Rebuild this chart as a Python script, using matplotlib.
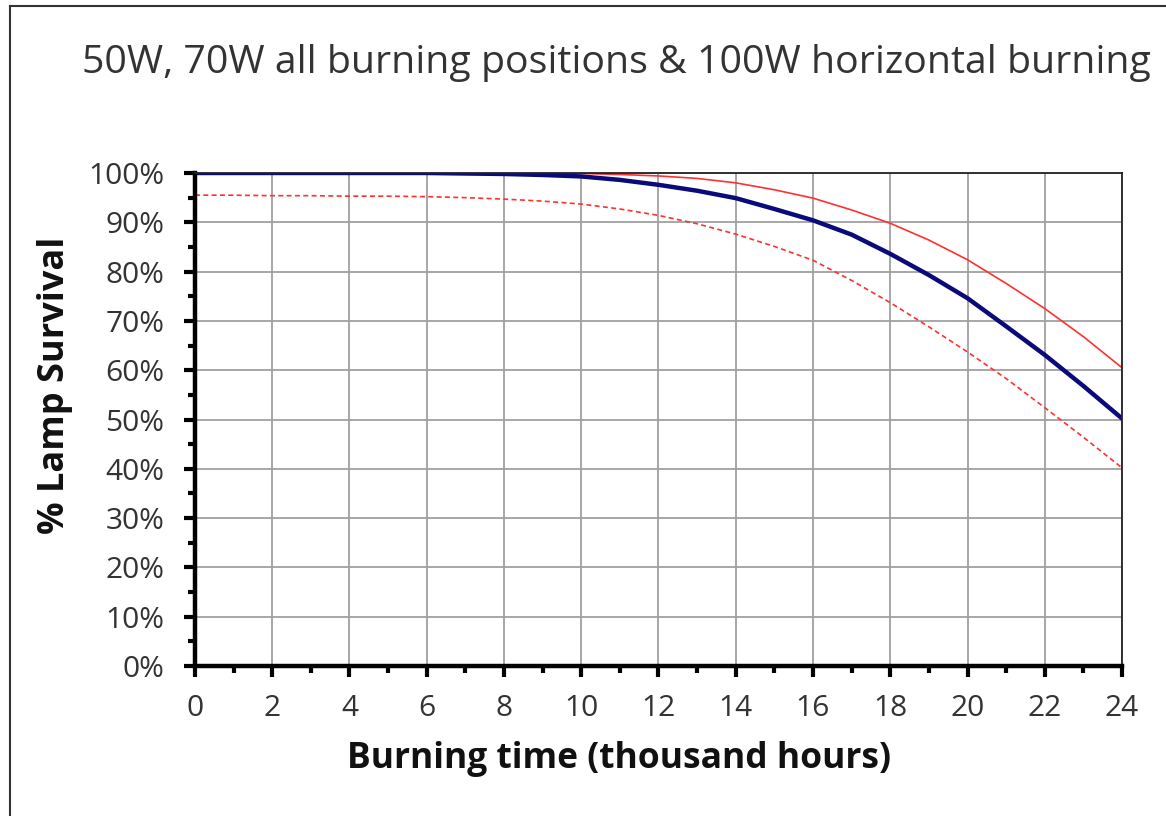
import numpy as np
import matplotlib
matplotlib.use('Agg')
import matplotlib.pyplot as plt
from matplotlib.lines import Line2D
from matplotlib.ticker import MultipleLocator, FuncFormatter

plt.rcParams['font.family'] = ['Open Sans', 'DejaVu Sans']

# burning time (thousand hours)
hours = list(range(0, 25))
# survival (%) - mean curve and upper/lower bands
survival_mean = [100, 100, 100, 100, 100, 100, 100, 99.9, 99.8, 99.6, 99.3, 98.6, 97.6,
                 96.4, 94.9, 92.7, 90.4, 87.5, 83.6, 79.3, 74.6, 68.9, 63.1, 56.8, 50.2]
survival_upper = [100, 100, 100, 100, 100, 100, 100, 100, 100, 100, 99.9, 99.7, 99.4,
                  98.9, 98.0, 96.6, 94.9, 92.5, 89.8, 86.4, 82.4, 77.6, 72.5, 66.8, 60.5]
survival_lower = [95.5, 95.5, 95.4, 95.4, 95.3, 95.3, 95.2, 95.0, 94.7, 94.3, 93.7, 92.7, 91.4,
                  89.7, 87.6, 85.1, 82.3, 78.2, 73.7, 68.8, 63.7, 58.3, 52.4, 46.4, 40.2]

title = "50W, 70W all burning positions & 100W horizontal burning"

fig = plt.figure(figsize=(11.66, 8.16), dpi=100)
ax = fig.add_axes([0.1672, 0.1838, 0.7951, 0.6042])

ax.plot(hours, survival_upper, color='#ff3030', lw=1.2)
ax.plot(hours, survival_lower, color='#ff3030', lw=1.2, ls=(0, (3, 2)))
ax.plot(hours, survival_mean, color='#0a0a7a', lw=3.2)

ax.set_xlim(0, 24)
ax.set_ylim(0, 100)
ax.xaxis.set_major_locator(MultipleLocator(2))
ax.xaxis.set_minor_locator(MultipleLocator(1))
ax.yaxis.set_major_locator(MultipleLocator(10))
ax.yaxis.set_minor_locator(MultipleLocator(5))
ax.yaxis.set_major_formatter(FuncFormatter(lambda v, p: '%d%%' % v))

ax.grid(True, which='major', color='#a0a0a0', lw=1.3)
ax.set_axisbelow(True)

for s in ['left', 'bottom']:
    ax.spines[s].set_linewidth(3.2)
for s in ['top', 'right']:
    ax.spines[s].set_linewidth(1.3)
    ax.spines[s].set_color('#222222')

ax.tick_params(which='major', direction='out', length=8, width=3, labelsize=21.5,
               labelcolor='#333333')
ax.tick_params(axis='y', which='major', pad=14)
ax.tick_params(axis='x', which='major', pad=12)
ax.tick_params(which='minor', direction='out', length=5, width=3)

ax.set_xlabel('Burning time (thousand hours)', fontsize=25.5, fontweight='bold',
              color='#111111', labelpad=13, x=0.457)
ax.set_ylabel('% Lamp Survival', fontsize=26, fontweight='bold',
              color='#111111', labelpad=11, y=0.57)

fig.text(0.0705, 0.923, title, fontsize=28.3, color='#333333', ha='left', va='center')

# outer frame (left and top edges visible)
fig.add_artist(Line2D([0.0086, 0.0086], [0, 0.993], color='#333333', lw=1.5,
                      transform=fig.transFigure))
fig.add_artist(Line2D([0.0086, 1], [0.993, 0.993], color='#333333', lw=1.5,
                      transform=fig.transFigure))

fig.savefig('out.png', dpi=100)
